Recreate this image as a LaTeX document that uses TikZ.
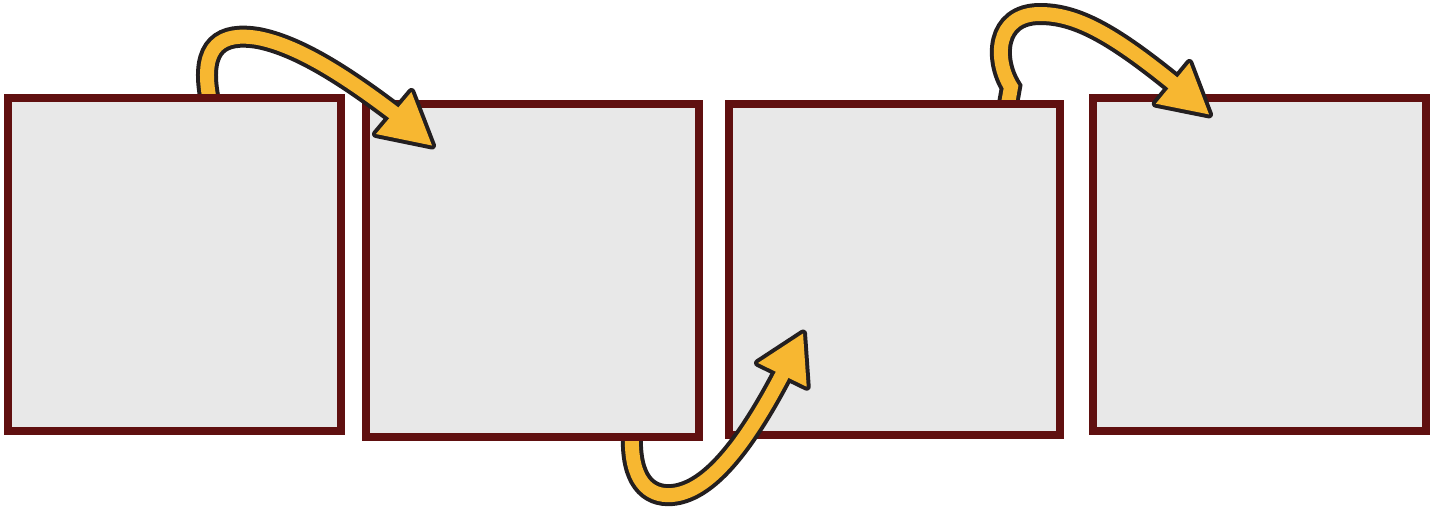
\documentclass[tikz,border=0pt]{standalone}
\begin{document}
\begin{tikzpicture}[x=0.5pt,y=-0.5pt]
\definecolor{boxred}{RGB}{96,16,16}
\definecolor{boxfill}{RGB}{232,232,232}
\definecolor{arrowyellow}{RGB}{247,183,49}
\definecolor{arrowline}{RGB}{35,31,32}
\tikzset{
  panel/.style={draw=boxred, fill=boxfill, line width=4pt, rectangle, inner sep=0pt, outer sep=0pt},
  shaftout/.style={draw=arrowline, line width=11pt, line cap=butt},
  shaftin/.style={draw=arrowyellow, line width=7pt, line cap=butt},
  headout/.style={draw=arrowline, line width=4pt, line join=round},
  headin/.style={fill=arrowyellow},
}
\useasboundingbox (0,0) rectangle (1439,510);

% box 4
\node[panel, minimum width=166.5pt, minimum height=166.75pt] (b4) at (1259.5,264.25) {};

% arrow 3 (box 3 -> box 4)
\coordinate (a3s) at (1008,104);
\coordinate (a3k) at (1011,87);
\coordinate (a3m) at (1173,83);
\coordinate (a3e) at (1177,87);
\coordinate (a3t) at (1209,114.4);
\coordinate (a3a) at (1189.4,63);
\coordinate (a3b) at (1155.8,103.7);
\draw[shaftout] (a3s) -- (a3k) .. controls (994,60) and (995,14) .. (1040,14) .. controls (1075,14) and (1110,32) .. (a3m) -- (a3e);
\draw[headout] (a3t) -- (a3a) -- (a3b) -- cycle;
\draw[shaftin] (a3s) -- (a3k) .. controls (994,60) and (995,14) .. (1040,14) .. controls (1075,14) and (1110,32) .. (a3m) -- (a3e);
\fill[headin] (a3t) -- (a3a) -- (a3b) -- cycle;

% box 3
\node[panel, minimum width=165.5pt, minimum height=165.5pt] (b3) at (894.5,269.5) {};

% arrow 2 (box 2 -> box 3)
\coordinate (a2s) at (632,434);
\coordinate (a2m) at (782,375);
\coordinate (a2e) at (785,369);
\coordinate (a2t) at (803,333.5);
\coordinate (a2a) at (758,363);
\coordinate (a2b) at (806.7,386.7);
\draw[shaftout] (a2s) .. controls (630,480) and (648,497) .. (672,495) .. controls (705,492) and (740,455) .. (a2m) -- (a2e);
\draw[headout] (a2t) -- (a2a) -- (a2b) -- cycle;
\draw[shaftin] (a2s) .. controls (630,480) and (648,497) .. (672,495) .. controls (705,492) and (740,455) .. (a2m) -- (a2e);
\fill[headin] (a2t) -- (a2a) -- (a2b) -- cycle;

% box 2
\node[panel, minimum width=166.5pt, minimum height=166.5pt] (b2) at (532.5,270.5) {};

% arrow 1 (box 1 -> box 2)
\coordinate (a1s) at (209,96);
\coordinate (a1m) at (394,113);
\coordinate (a1e) at (400,118);
\coordinate (a1t) at (432,145.5);
\coordinate (a1a) at (411.4,92);
\coordinate (a1b) at (376,134);
\draw[shaftout] (a1s) .. controls (200,45) and (222,32) .. (258,38) .. controls (295,45) and (340,72) .. (a1m) -- (a1e);
\draw[headout] (a1t) -- (a1a) -- (a1b) -- cycle;
\draw[shaftin] (a1s) .. controls (200,45) and (222,32) .. (258,38) .. controls (295,45) and (340,72) .. (a1m) -- (a1e);
\fill[headin] (a1t) -- (a1a) -- (a1b) -- cycle;

% box 1
\node[panel, minimum width=166.5pt, minimum height=166.5pt] (b1) at (174.5,264.5) {};
\end{tikzpicture}
\end{document}
